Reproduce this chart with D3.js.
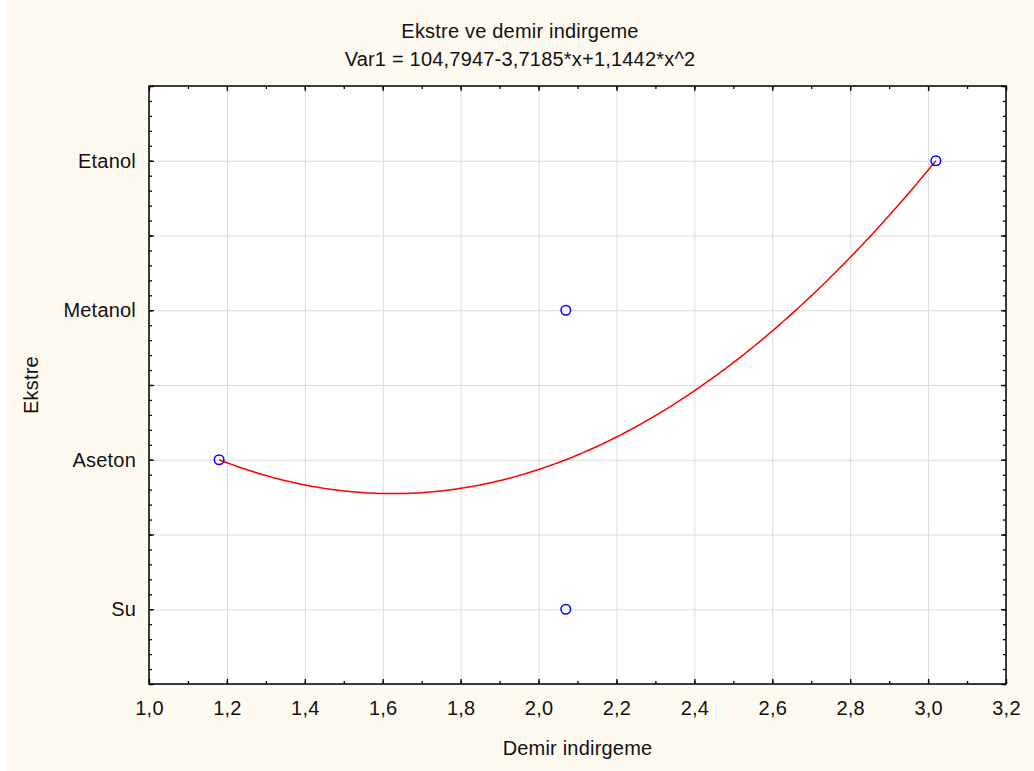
<!DOCTYPE html>
<html>
<head>
<meta charset="utf-8">
<script src="https://cdn.jsdelivr.net/npm/d3@7"></script>
<style>
  body { margin: 0; background: #fff; }
  text { font-family: "Liberation Sans", Arial, sans-serif; fill: #111; letter-spacing: 0.2px; }
</style>
</head>
<body>
<svg id="chart"></svg>
<script>
// data
const categories = ["Su", "Aseton", "Metanol", "Etanol"]
const categoryCodes = [101, 102, 103, 104]
const pointX = [1.18, 2.07, 2.07, 3.02]
const pointCat = ["Aseton", "Metanol", "Su", "Etanol"]
// fitted curve from the title: Var1 = a + b*x + c*x^2
const fitCoef = [104.7947, -3.7185, 1.1442]
const xTicks = [1.0, 1.2, 1.4, 1.6, 1.8, 2.0, 2.2, 2.4, 2.6, 2.8, 3.0, 3.2]

const width = 1034,
    height = 771
const plotLeft = 149, plotRight = 1006, plotTop = 86, plotBottom = 684
const fontSize = 20

const svg = d3.select("#chart")
    .attr("width", width)
    .attr("height", height)

svg.append("rect")
    .attr("x", 7).attr("y", 0)
    .attr("width", width - 7).attr("height", height)
    .attr("fill", "#fffaf0")

svg.append("rect")
    .attr("x", plotLeft).attr("y", plotTop)
    .attr("width", plotRight - plotLeft).attr("height", plotBottom - plotTop)
    .attr("fill", "#fff")

const x = d3.scaleLinear().domain([1.0, 3.2]).range([plotLeft, plotRight])
const y = d3.scaleLinear().domain([100.5, 104.5]).range([plotBottom, plotTop])

const codeOf = name => categoryCodes[categories.indexOf(name)]
const labelOf = v => {
    const i = categoryCodes.indexOf(Math.round(v * 10) / 10)
    return i < 0 ? "" : categories[i]
}

const xMinor = d3.range(0, 23).map(i => 1.0 + i * 0.1)
const yMajor = d3.range(0, 9).map(i => 100.5 + i * 0.5)
const yMinor = d3.range(0, 41).map(i => 100.5 + i * 0.1)

// grid
svg.append("g")
    .attr("transform", `translate(0,${plotBottom})`)
    .call(d3.axisBottom(x).tickValues(xTicks).tickSize(-(plotBottom - plotTop)).tickFormat(""))
    .call(g => g.select(".domain").remove())
    .selectAll("line").attr("stroke", "#dcdcdc")
svg.append("g")
    .attr("transform", `translate(${plotLeft},0)`)
    .call(d3.axisLeft(y).tickValues(yMajor).tickSize(-(plotRight - plotLeft)).tickFormat(""))
    .call(g => g.select(".domain").remove())
    .selectAll("line").attr("stroke", "#dcdcdc")

// ticks on all four sides, pointing inward
const tickStyle = g => {
    g.select(".domain").remove()
    g.selectAll("line").attr("stroke", "#000").attr("stroke-width", 1.3)
}
svg.append("g").attr("transform", `translate(0,${plotBottom})`)
    .call(d3.axisBottom(x).tickValues(xMinor).tickSize(-3).tickFormat("")).call(tickStyle)
svg.append("g").attr("transform", `translate(0,${plotTop})`)
    .call(d3.axisTop(x).tickValues(xMinor).tickSize(-3).tickFormat("")).call(tickStyle)
svg.append("g").attr("transform", `translate(0,${plotTop})`)
    .call(d3.axisTop(x).tickValues(xTicks).tickSize(-5).tickFormat("")).call(tickStyle)
svg.append("g").attr("transform", `translate(${plotLeft},0)`)
    .call(d3.axisLeft(y).tickValues(yMinor).tickSize(-3).tickFormat("")).call(tickStyle)
svg.append("g").attr("transform", `translate(${plotRight},0)`)
    .call(d3.axisRight(y).tickValues(yMinor).tickSize(-3).tickFormat("")).call(tickStyle)
svg.append("g").attr("transform", `translate(${plotRight},0)`)
    .call(d3.axisRight(y).tickValues(yMajor).tickSize(-5).tickFormat("")).call(tickStyle)

const xAxis = svg.append("g")
    .attr("transform", `translate(0,${plotBottom})`)
    .call(d3.axisBottom(x).tickValues(xTicks).tickSize(-5).tickPadding(17)
        .tickFormat(d => d3.format(".1f")(d).replace(".", ",")))
    .call(tickStyle)
xAxis.selectAll("text").attr("font-size", fontSize).attr("fill", "#111")
    .attr("font-family", "Liberation Sans, Arial, sans-serif")

const yAxis = svg.append("g")
    .attr("transform", `translate(${plotLeft},0)`)
    .call(d3.axisLeft(y).tickValues(yMajor).tickSize(-5).tickPadding(13).tickFormat(labelOf))
    .call(tickStyle)
yAxis.selectAll("text").attr("font-size", fontSize).attr("fill", "#111")
    .attr("font-family", "Liberation Sans, Arial, sans-serif")

// frame
svg.append("rect")
    .attr("x", plotLeft).attr("y", plotTop)
    .attr("width", plotRight - plotLeft).attr("height", plotBottom - plotTop)
    .attr("fill", "none").attr("stroke", "#000").attr("stroke-width", 1.5)

// fitted curve
const fit = v => fitCoef[0] + fitCoef[1] * v + fitCoef[2] * v * v
const xs = d3.range(d3.min(pointX), d3.max(pointX) + 0.001, 0.01)
svg.append("path")
    .datum(xs)
    .attr("fill", "none")
    .attr("stroke", "#ff0000")
    .attr("stroke-width", 1.5)
    .attr("d", d3.line().x(d => x(d)).y(d => y(fit(d))))

// points
svg.selectAll("circle.pt")
    .data(pointX)
    .enter()
    .append("circle")
    .attr("class", "pt")
    .attr("cx", d => x(d))
    .attr("cy", (d, i) => y(codeOf(pointCat[i])))
    .attr("r", 4.8)
    .attr("fill", "none")
    .attr("stroke", "#0000ff")
    .attr("stroke-width", 1.5)

// titles
svg.append("text")
    .attr("x", 520).attr("y", 38)
    .attr("text-anchor", "middle").attr("font-size", fontSize)
    .text("Ekstre ve demir indirgeme")
svg.append("text")
    .attr("x", 520).attr("y", 66)
    .attr("text-anchor", "middle").attr("font-size", fontSize)
    .text("Var1 = 104,7947-3,7185*x+1,1442*x^2")
svg.append("text")
    .attr("x", (plotLeft + plotRight) / 2).attr("y", 755)
    .attr("text-anchor", "middle").attr("font-size", fontSize)
    .text("Demir indirgeme")
svg.append("text")
    .attr("transform", `translate(38,${(plotTop + plotBottom) / 2}) rotate(-90)`)
    .attr("text-anchor", "middle").attr("font-size", fontSize)
    .text("Ekstre")
</script>
</body>
</html>
